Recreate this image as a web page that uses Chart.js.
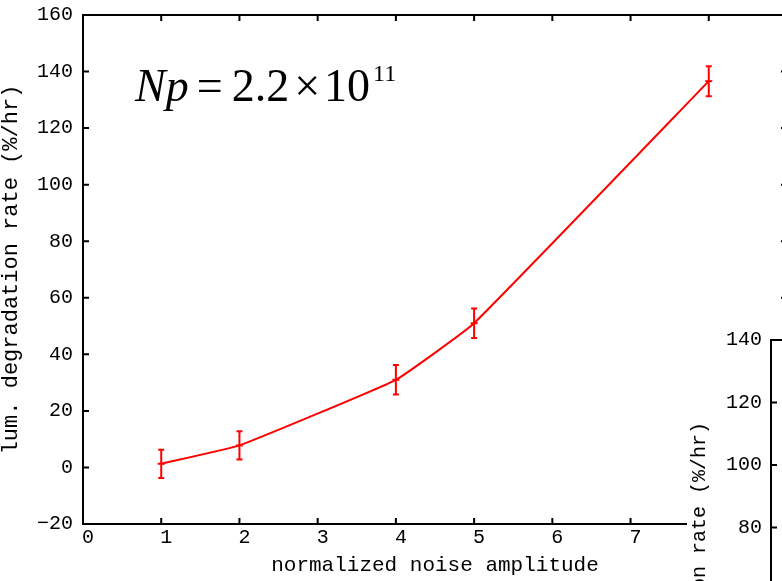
<!DOCTYPE html>
<html><head><meta charset="utf-8">
<script src="https://cdn.jsdelivr.net/npm/chart.js@4"></script>
<style>
html,body{margin:0;padding:0;background:#fff;overflow:hidden;width:782px;height:581px;position:relative;}
#main{position:absolute;left:0;top:0;}
#inset{position:absolute;left:687px;top:325px;background:#fff;}
#ann{position:absolute;left:135px;top:63px;font-family:"Liberation Serif","Times New Roman",serif;font-size:46px;line-height:1;color:#000;white-space:nowrap;}
#ann span{display:inline-block;}
</style></head><body>
<canvas id="main" width="800" height="581"></canvas>
<canvas id="inset" width="200" height="572"></canvas>
<div id="ann"><span style="font-style:italic">Np</span><span style="margin-left:8px">=</span><span style="margin-left:9px">2.2</span><span style="margin-left:5px">×</span><span style="margin-left:4px">10</span><span style="font-size:24px;position:relative;top:-20px;margin-left:3px">11</span></div>
<script>
// ---- data ----
const noiseAmplitude = [1, 2, 4, 5, 8];
const degradationRate = [1.3, 7.8, 31, 51, 136.6];
const rateError = [5, 5, 5.2, 5.2, 5.3];
const xTickRange = [0, 9];
const yTickRange = [-20, 160];
const insetYRange = [-20, 140];
const xTitle = 'normalized noise amplitude';
const yTitle = 'lum. degradation rate (%/hr)';

const MONO = '"Liberation Mono","DejaVu Sans Mono",monospace';
const fmt = v => v < 0 ? '\u2212' + Math.abs(v) : String(v);

const frameTicks = {
  id: 'frameTicks',
  afterDraw(chart) {
    const {ctx, chartArea: a, scales: {x, y}} = chart;
    ctx.save();
    ctx.strokeStyle = '#000';
    ctx.lineWidth = 2;
    ctx.strokeRect(a.left, a.top, a.right - a.left, a.bottom - a.top);
    const L = 6;
    ctx.beginPath();
    x.ticks.forEach(t => {
      const px = x.getPixelForValue(t.value);
      if (px <= a.left + 1 || px >= a.right - 1) return;
      ctx.moveTo(px, a.bottom); ctx.lineTo(px, a.bottom - L);
      ctx.moveTo(px, a.top); ctx.lineTo(px, a.top + L);
    });
    y.ticks.forEach(t => {
      const py = y.getPixelForValue(t.value);
      if (py <= a.top + 1 || py >= a.bottom - 1) return;
      ctx.moveTo(a.left, py); ctx.lineTo(a.left + L, py);
      ctx.moveTo(a.right, py); ctx.lineTo(a.right - L, py);
    });
    ctx.stroke();
    ctx.restore();
  }
};

const errorBars = {
  id: 'errorBars',
  afterDatasetsDraw(chart) {
    const {ctx, scales: {x, y}} = chart;
    const ds = chart.data.datasets[0];
    if (!ds.errors) return;
    ctx.save();
    ctx.strokeStyle = 'rgb(255,0,0)';
    ctx.lineWidth = 2;
    ds.data.forEach((p, i) => {
      const px = x.getPixelForValue(p.x);
      const yh = y.getPixelForValue(p.y + ds.errors[i]);
      const yl = y.getPixelForValue(p.y - ds.errors[i]);
      ctx.beginPath();
      ctx.moveTo(px, yh); ctx.lineTo(px, yl);
      ctx.moveTo(px - 3, yh); ctx.lineTo(px + 3, yh);
      ctx.moveTo(px - 3, yl); ctx.lineTo(px + 3, yl);
      ctx.stroke();
    });
    ctx.restore();
  }
};

function fitY(w) { return s => { s.width = w; s.paddingTop = 0; s.paddingBottom = 0; }; }
function fitX(h) { return s => { s.height = h; s.paddingLeft = 0; s.paddingRight = 0; }; }

new Chart(document.getElementById('main'), {
  type: 'line',
  data: {
    datasets: [{
      data: noiseAmplitude.map((v, i) => ({x: v, y: degradationRate[i]})),
      errors: rateError,
      borderColor: 'rgb(255,0,0)',
      backgroundColor: 'rgb(255,0,0)',
      borderWidth: 2,
      tension: 0.1,
      pointStyle: 'line',
      pointRadius: 3.5,
      pointBorderWidth: 2,
      pointBorderColor: 'rgb(255,0,0)'
    }]
  },
  options: {
    responsive: false,
    animation: false,
    devicePixelRatio: 1,
    layout: {padding: {left: 0, top: 15, right: 13, bottom: 0}},
    plugins: {legend: {display: false}, tooltip: {enabled: false}},
    scales: {
      x: {
        type: 'linear', min: xTickRange[0], max: xTickRange[1],
        afterFit: fitX(57),
        grid: {display: false, drawTicks: false},
        border: {display: false},
        ticks: {stepSize: 1, color: '#000', padding: 2, labelOffset: 5, font: {family: MONO, size: 20}, callback: fmt},
        title: {display: true, text: xTitle, color: '#000', font: {family: MONO, size: 21, lineHeight: 1}, padding: {top: 0, bottom: 5.5}}
      },
      y: {
        min: yTickRange[0], max: yTickRange[1],
        afterFit: fitY(83),
        grid: {display: false, drawTicks: false},
        border: {display: false},
        ticks: {stepSize: 20, color: '#000', padding: 10, font: {family: MONO, size: 20}, callback: fmt},
        title: {display: true, text: yTitle, color: '#000', font: {family: MONO, size: 22, lineHeight: 1}, padding: 0}
      }
    }
  },
  plugins: [errorBars, frameTicks]
});

new Chart(document.getElementById('inset'), {
  type: 'line',
  data: {datasets: [{data: []}]},
  options: {
    responsive: false,
    animation: false,
    devicePixelRatio: 1,
    layout: {padding: {left: 0, top: 15, right: 0, bottom: 0}},
    plugins: {legend: {display: false}, tooltip: {enabled: false}},
    scales: {
      x: {
        type: 'linear', min: 0, max: 9,
        afterFit: fitX(57),
        grid: {display: false, drawTicks: false},
        border: {display: false},
        ticks: {stepSize: 1, color: '#000', padding: 2, font: {family: MONO, size: 20}}
      },
      y: {
        min: insetYRange[0], max: insetYRange[1],
        afterFit: fitY(84),
        grid: {display: false, drawTicks: false},
        border: {display: false},
        ticks: {stepSize: 20, color: '#000', padding: 9, font: {family: MONO, size: 20}, callback: fmt},
        title: {display: true, text: yTitle, color: '#000', font: {family: MONO, size: 20, lineHeight: 1}, padding: {top: 3, bottom: 0}}
      }
    }
  },
  plugins: [frameTicks]
});
</script>
</body></html>
